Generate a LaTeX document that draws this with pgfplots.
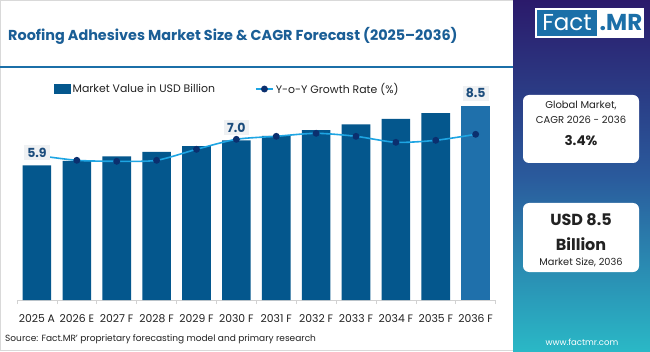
\documentclass[border=0pt]{standalone}
\usepackage{pgfplots}
\pgfplotsset{compat=1.18}
\usepackage{fontspec}
\setmainfont{Poppins}
\definecolor{barblue}{HTML}{04578D}
\definecolor{lightbar}{HTML}{1F70AB}
\definecolor{titleblue}{HTML}{1A5E96}
\definecolor{linecol}{HTML}{1EA5E3}
\definecolor{markcol}{HTML}{0B2F6E}
\definecolor{labeltext}{HTML}{1B4C7C}
\definecolor{labelbg}{HTML}{EFF1F3}
\definecolor{sidetop}{HTML}{2B1A6B}
\definecolor{sidemid}{HTML}{2A5A9C}
\definecolor{sidebot}{HTML}{2AB8C6}
\definecolor{logoblue}{HTML}{1B6FA8}
\definecolor{darktext}{HTML}{222222}
\begin{document}
\begin{tikzpicture}[x=1pt,y=1pt]
\useasboundingbox (0,0) rectangle (650,351);
\fill[white] (0,0) rectangle (650,351);
\draw[gray!30, line width=0.8pt] (0.4,0.4) rectangle (513,350.6);
% title
\node[anchor=west, font=\fontsize{14.4}{17}\selectfont\bfseries, text=titleblue, inner sep=0] at (8,315) {Roofing Adhesives Market Size \& CAGR Forecast (2025–2036)};
\draw[logoblue, line width=2pt] (0,284) -- (513,284);
% sidebar
\shade[top color=sidetop, bottom color=sidebot, middle color=sidemid] (513,0) rectangle (650,351);
\fill[white] (535,313) rectangle (644,343);
\fill[logoblue] (537,315) rectangle (597,341);
\node[text=white, font=\fontsize{23}{24}\selectfont, inner sep=0] at (567,328) {Fact};
\node[text=logoblue, font=\fontsize{23}{24}\selectfont\bfseries, inner sep=0] at (621,328) {.MR};
\fill[white, rounded corners=6pt] (523,188) rectangle (639,256);
\node[text=darktext, font=\fontsize{10}{12}\selectfont] at (581,245) {Global Market,};
\node[text=darktext, font=\fontsize{10}{12}\selectfont] at (581,231) {CAGR 2026 - 2036};
\node[text=darktext, font=\fontsize{13.5}{16}\selectfont\bfseries] at (581,210) {3.4\%};
\fill[white, rounded corners=6pt] (523,79) rectangle (639,148);
\node[text=darktext, font=\fontsize{16}{18}\selectfont\bfseries] at (581,131) {USD 8.5};
\node[text=darktext, font=\fontsize{16}{18}\selectfont\bfseries] at (581,107) {Billion};
\node[text=darktext, font=\fontsize{9.8}{11}\selectfont] at (581,89) {Market Size, 2036};
\node[text=white, font=\fontsize{8.5}{10}\selectfont] at (582,9) {www.factmr.com};
% source
\node[anchor=west, text=darktext, font=\fontsize{9}{11}\selectfont, inner sep=0] at (5,12) {Source: Fact.MR' proprietary forecasting model and primary research};
\begin{axis}[
  at={(17pt,51pt)}, anchor=south west,
  scale only axis, width=478.6pt, height=220pt,
  xmin=-0.5, xmax=11.5, ymin=0, ymax=9.65,
  axis x line*=bottom, axis y line=none,
  x axis line style={gray!35, line width=0.6pt},
  xtick={0,...,11},
  xticklabels={2025 A,2026 E,2027 F,2028 F,2029 F,2030 F,2031 F,2032 F,2033 F,2034 F,2035 F,2036 F},
  major tick length=0pt,
  extra x ticks={-0.5,0.5,...,11.5}, extra x tick labels={},
  extra x tick style={major tick length=4pt, tick align=outside, tick style={gray!35, line width=0.6pt}},
  xticklabel style={font=\fontsize{10.8}{12}\selectfont, text=darktext, yshift=-11pt},
  ytick=\empty,
  clip=false,
  legend style={at={(0.439,0.959)}, anchor=center, draw=none, fill=none,
    legend columns=2, font=\fontsize{10.9}{12}\selectfont, text=darktext,
    /tikz/every even column/.append style={column sep=38pt},
    legend cell align=left},
]
\addplot[ybar, bar width=28.6pt, bar shift=0pt, fill=barblue, draw=none,
  legend image code/.code={\fill[barblue] (0pt,-4.5pt) rectangle (17pt,5pt);}]
  coordinates {(0,5.9) (1,6.1) (2,6.3) (3,6.5) (4,6.75) (5,7.0) (6,7.2) (7,7.45) (8,7.7) (9,7.95) (10,8.2)};
\addlegendentry{Market Value in USD Billion}
\addplot[ybar, bar width=28.6pt, bar shift=0pt, fill=lightbar, draw=none, forget plot]
  coordinates {(11,8.5)};
\addplot[linecol, line width=1.6pt, smooth, tension=0.45, mark=*, mark size=2.6pt,
  mark options={fill=markcol, draw=markcol},
  y filter/.expression={(139.7+(y-3.4)*100)/22.8}]
  coordinates {(0,3.45) (1,3.40) (2,3.39) (3,3.40) (4,3.51) (5,3.61) (6,3.64) (7,3.67) (8,3.64) (9,3.58) (10,3.60) (11,3.66)};
\addlegendentry{Y-o-Y Growth Rate (\%)}
\addplot[draw=none, mark=none, forget plot, nodes near coords, point meta=explicit symbolic,
  every node near coord/.style={fill=labelbg, text=labeltext, font=\fontsize{12.5}{14}\selectfont\bfseries, inner sep=3pt, anchor=south, yshift=5pt}]
  coordinates {(0,5.9)[5.9] (5,7.0)[7.0] (11,8.5)[8.5]};
\end{axis}
\end{tikzpicture}
\end{document}
